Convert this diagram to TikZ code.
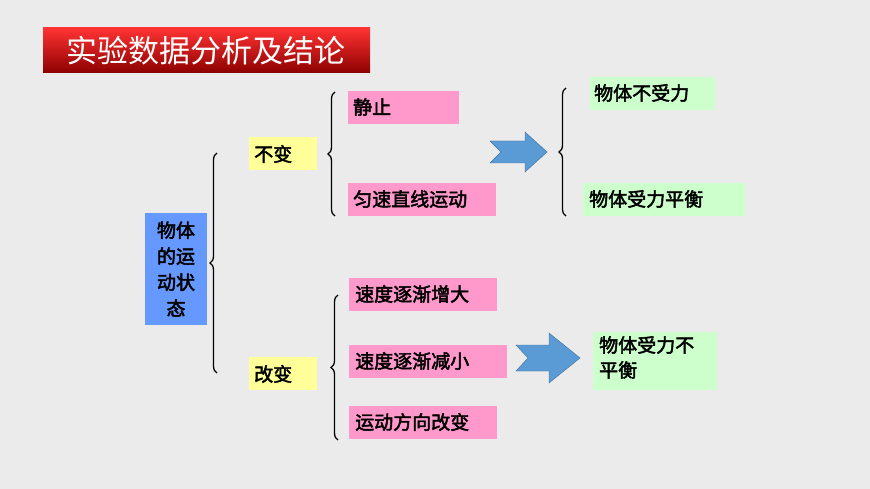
\documentclass[tikz,border=0pt]{standalone}
\usepackage{fontspec}
\newfontfamily\cjk{Noto Sans CJK SC}
\newfontfamily\cjkb[FakeBold=2.5]{Noto Sans CJK SC}
\usetikzlibrary{decorations.pathreplacing}
\definecolor{bg}{HTML}{EBEBEB}
\definecolor{pinkb}{HTML}{FF99CC}
\definecolor{yelb}{HTML}{FFFF99}
\definecolor{greenb}{HTML}{CCFFCC}
\definecolor{blueb}{HTML}{6699FF}
\definecolor{arr}{HTML}{5B9BD5}
\begin{document}
\begin{tikzpicture}[x=1pt,y=-1pt,
  box/.style={anchor=west,inner sep=0pt,font=\cjkb\fontsize{19}{22}\selectfont,align=left},
  brc/.style={draw,line width=1.3pt,decorate,decoration={brace,amplitude=7pt}},
  arrs/.style={fill=arr,draw=arr!70!black}]
\fill[bg] (0,0) rectangle (870,489);
\shade[top color=red!80!white,bottom color=red!55!black] (43,28) rectangle (370,73);
\node[font=\cjk\fontsize{31}{33}\selectfont,text=white] (title) at (206,51) {实验数据分析及结论};
\fill[blueb] (145,213) rectangle (207,325);
\node[font=\cjkb\fontsize{19}{26}\selectfont,align=center] (obj) at (176,269) {物体\\的运\\动状\\态};
\fill[yelb] (249,137) rectangle (317,170); \node[box] (bb) at (254,154) {不变};
\fill[yelb] (249,357) rectangle (317,390); \node[box] (gb) at (254,374) {改变};
\fill[pinkb] (348,91) rectangle (459,124); \node[box] (jz) at (353,107) {静止};
\fill[pinkb] (348,183) rectangle (496,216); \node[box] (yz) at (353,199) {匀速直线运动};
\fill[pinkb] (349,278) rectangle (497,311); \node[box] (zd) at (355,294) {速度逐渐增大};
\fill[pinkb] (349,345) rectangle (507,378); \node[box] (jx) at (355,361) {速度逐渐减小};
\fill[pinkb] (349,406) rectangle (497,439); \node[box] (fx) at (355,422) {运动方向改变};
\fill[greenb] (590,77) rectangle (715,110); \node[box] (bs) at (594,93) {物体不受力};
\fill[greenb] (583,183) rectangle (745,216); \node[box] (ph) at (589,199) {物体受力平衡};
\fill[greenb] (593,332) rectangle (717,390); \node[box,anchor=north west,font=\cjkb\fontsize{19}{25}\selectfont] (bp) at (599,336) {物体受力不\\平衡};
\coordinate (a1) at (217,373); \coordinate (a2) at (217,153);
\draw[brc] (a1) -- (a2);
\coordinate (b1) at (335,216); \coordinate (b2) at (335,92);
\draw[brc] (b1) -- (b2);
\coordinate (c1) at (338,440); \coordinate (c2) at (338,295);
\draw[brc] (c1) -- (c2);
\coordinate (d1) at (566,216); \coordinate (d2) at (566,88);
\draw[brc] (d1) -- (d2);
\draw[arrs] (490,141) -- (525,141) -- (525,132) -- (547,152) -- (525,172) -- (525,163) -- (490,163) -- (501,152) -- cycle;
\draw[arrs] (516,345) -- (549,345) -- (549,333) -- (580,358) -- (549,383) -- (549,371) -- (516,371) -- (528,358) -- cycle;
\end{tikzpicture}
\end{document}
